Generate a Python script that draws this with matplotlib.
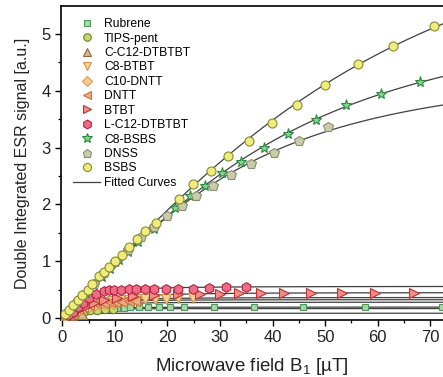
import numpy as np
import matplotlib
matplotlib.use("Agg")
import matplotlib.pyplot as plt

plt.rcParams['font.family'] = ['Liberation Sans', 'DejaVu Sans']
plt.rcParams['mathtext.fontset'] = 'custom'
plt.rcParams['mathtext.rm'] = 'Liberation Sans'

# values
rubrene_x = [0.8, 1.8, 2.8, 3.8, 4.8, 6.0, 7.2, 8.3, 9.4, 10.4, 11.7, 12.9, 14.5, 16.3, 18.3, 20.5, 23.1, 28.9, 36.5, 45.8, 57.6, 72.2]
rubrene_y = [0.04, 0.08, 0.11, 0.13, 0.15, 0.16, 0.17, 0.18, 0.18, 0.18, 0.18, 0.19, 0.19, 0.19, 0.19, 0.19, 0.19, 0.19, 0.19, 0.19, 0.19, 0.19]
tips_x = [0.5, 1.2, 2.0, 2.8, 3.6, 4.4, 5.2, 6.6, 8.2, 9.6]
tips_y = [0.03, 0.06, 0.09, 0.11, 0.12, 0.13, 0.14, 0.15, 0.16, 0.16]
cc12_x = [0.4, 0.9, 1.4, 1.9, 2.5, 3.1, 3.8]
cc12_y = [0.02, 0.04, 0.05, 0.06, 0.07, 0.07, 0.08]
c8btbt_x = [1.0, 2.0, 3.0, 4.2, 5.4, 6.6, 8.0, 9.4, 11.0, 12.6, 14.2, 15.8, 17.7, 19.8, 22.1, 24.8]
c8btbt_y = [0.05, 0.10, 0.15, 0.19, 0.23, 0.26, 0.28, 0.30, 0.31, 0.32, 0.33, 0.33, 0.34, 0.34, 0.35, 0.35]
c10dntt_x = [0.7, 1.5, 2.3, 3.1, 4.0, 5.0, 6.0, 7.2, 8.4, 9.6]
c10dntt_y = [0.04, 0.08, 0.12, 0.15, 0.18, 0.20, 0.22, 0.23, 0.24, 0.25]
dntt_x = [1.0, 2.0, 3.0, 4.0, 5.0, 6.4, 7.9, 9.0, 10.1, 11.3, 12.6, 13.9]
dntt_y = [0.05, 0.11, 0.16, 0.20, 0.23, 0.26, 0.27, 0.28, 0.29, 0.29, 0.30, 0.30]
btbt_x = [1.5, 3.0, 4.5, 6.0, 8.0, 10.5, 13.5, 17.5, 22.1, 26.1, 30.0, 33.7, 37.8, 42.2, 47.3, 53.2, 59.5, 66.8]
btbt_y = [0.08, 0.15, 0.21, 0.26, 0.31, 0.35, 0.38, 0.41, 0.43, 0.43, 0.43, 0.44, 0.44, 0.44, 0.44, 0.44, 0.44, 0.44]
lc12_x = [1.0, 2.0, 3.0, 4.0, 5.0, 6.4, 7.9, 8.9, 9.9, 11.2, 12.6, 14.1, 15.8, 17.5, 19.8, 22.1, 24.8, 27.9, 31.2, 35.0]
lc12_y = [0.05, 0.11, 0.20, 0.26, 0.35, 0.43, 0.48, 0.49, 0.50, 0.50, 0.51, 0.51, 0.51, 0.51, 0.52, 0.52, 0.52, 0.53, 0.54, 0.54]
c8bsbs_x = [1.0, 2.0, 3.0, 4.5, 6.0, 7.5, 9.0, 10.8, 12.5, 14.4, 17.5, 21.5, 24.2, 27.1, 30.4, 34.0, 38.3, 42.9, 48.2, 54.0, 60.6, 68.1]
c8bsbs_y = [0.10, 0.20, 0.30, 0.44, 0.58, 0.72, 0.86, 1.02, 1.17, 1.33, 1.57, 1.93, 2.14, 2.33, 2.56, 2.75, 3.00, 3.24, 3.49, 3.75, 3.94, 4.16]
dnss_x = [1.0, 2.5, 4.0, 6.0, 8.0, 10.0, 12.5, 15.0, 17.5, 20.0, 22.8, 25.4, 28.6, 32.1, 35.9, 40.3, 45.1, 50.6]
dnss_y = [0.10, 0.25, 0.40, 0.60, 0.79, 0.98, 1.20, 1.42, 1.60, 1.80, 1.98, 2.14, 2.33, 2.52, 2.71, 2.91, 3.12, 3.36]
bsbs_x = [0.6, 1.3, 2.1, 2.9, 3.8, 4.8, 5.7, 7.0, 8.0, 8.9, 10.1, 11.4, 12.7, 14.3, 15.8, 17.9, 22.2, 24.9, 28.2, 31.6, 35.5, 39.8, 44.6, 50.0, 56.3, 62.9, 70.7]
bsbs_y = [0.07, 0.14, 0.23, 0.32, 0.40, 0.49, 0.60, 0.74, 0.81, 0.89, 1.00, 1.11, 1.25, 1.39, 1.54, 1.68, 2.10, 2.36, 2.59, 2.86, 3.11, 3.43, 3.75, 4.10, 4.47, 4.79, 5.14]

series = [
    ('Rubrene', rubrene_x, rubrene_y, 's', '#a3d9a5', '#4c9a58', 5.0),
    ('TIPS-pent', tips_x, tips_y, 'o', '#c6da6e', '#6e7d2c', 6.0),
    ('C-C12-DTBTBT', cc12_x, cc12_y, '^', '#d6b888', '#8c6b3c', 6.5),
    ('C8-BTBT', c8btbt_x, c8btbt_y, 'v', '#f6d08e', '#c8974c', 6.5),
    ('C10-DNTT', c10dntt_x, c10dntt_y, 'D', '#f8cb92', '#d89b52', 5.3),
    ('DNTT', dntt_x, dntt_y, '<', '#f3aa7e', '#c8723c', 6.5),
    ('BTBT', btbt_x, btbt_y, '>', '#f28c84', '#b83434', 6.5),
    ('L-C12-DTBTBT', lc12_x, lc12_y, 'h', '#ee6c84', '#b02444', 7.0),
    ('C8-BSBS', c8bsbs_x, c8bsbs_y, '*', '#86d291', '#2a8a3c', 8.0),
    ('DNSS', dnss_x, dnss_y, 'p', '#c9cca9', '#8a8d72', 7.0),
    ('BSBS', bsbs_x, bsbs_y, 'o', '#efec7c', '#8a8a32', 6.5),
]


def saturation_fit(x, y):
    # y = A*x / sqrt(1 + (x/x0)^2), grid over x0, closed form for A
    x = np.asarray(x)
    y = np.asarray(y)
    best = None
    for x0 in np.geomspace(0.5, 2000, 3000):
        f = x / np.sqrt(1 + (x / x0) ** 2)
        a = np.dot(y, f) / np.dot(f, f)
        err = np.sum((y - a * f) ** 2)
        if best is None or err < best[0]:
            best = (err, a, x0)
    return best[1], best[2]


fig = plt.figure(figsize=(4.43, 3.77), dpi=100)
ax = fig.add_axes([0.137, 0.151, 0.863, 0.833])

xx = np.linspace(0, 75, 400)
for name, x, y, m, fc, ec, ms in series:
    a, x0 = saturation_fit(x, y)
    ax.plot(xx, a * xx / np.sqrt(1 + (xx / x0) ** 2), color='#404040', lw=0.9, zorder=2)

for name, x, y, m, fc, ec, ms in series:
    ax.plot(x, y, ls='none', marker=m, ms=ms, mfc=fc, mec=ec, mew=0.8, label=name, zorder=3)
ax.plot([], [], color='#404040', lw=0.9, label='Fitted Curves')

ax.set_xlim(-0.3, 72.4)
ax.set_ylim(-0.035, 5.49)
ax.set_xticks(np.arange(0, 71, 10))
ax.set_xticks(np.arange(5, 75, 10), minor=True)
ax.set_yticks(np.arange(0, 6, 1))
ax.set_yticks(np.arange(0.5, 5.5, 1), minor=True)
ax.tick_params(which='major', direction='out', length=4, width=1.0, labelsize=12,
               labelcolor='#222222', top=False, right=False, pad=3)
ax.tick_params(which='minor', direction='out', length=2.5, width=0.9, top=False, right=False)
ax.spines['right'].set_visible(False)
for s in ['left', 'bottom', 'top']:
    ax.spines[s].set_linewidth(1.2)

ax.set_xlabel(r'Microwave field $\mathregular{B_1}$ [µT]', fontsize=13.5, labelpad=8, color='#222222')
ax.set_ylabel('Double Integrated ESR signal [a.u.]', fontsize=11.5, labelpad=8, color='#222222')

ax.legend(loc='upper left', bbox_to_anchor=(0.008, 0.992), frameon=False, fontsize=8.7,
          labelspacing=0.2, handlelength=2.2, handletextpad=0.35, borderaxespad=0.4,
          markerscale=0.9)

fig.savefig('out.png', dpi=100)
